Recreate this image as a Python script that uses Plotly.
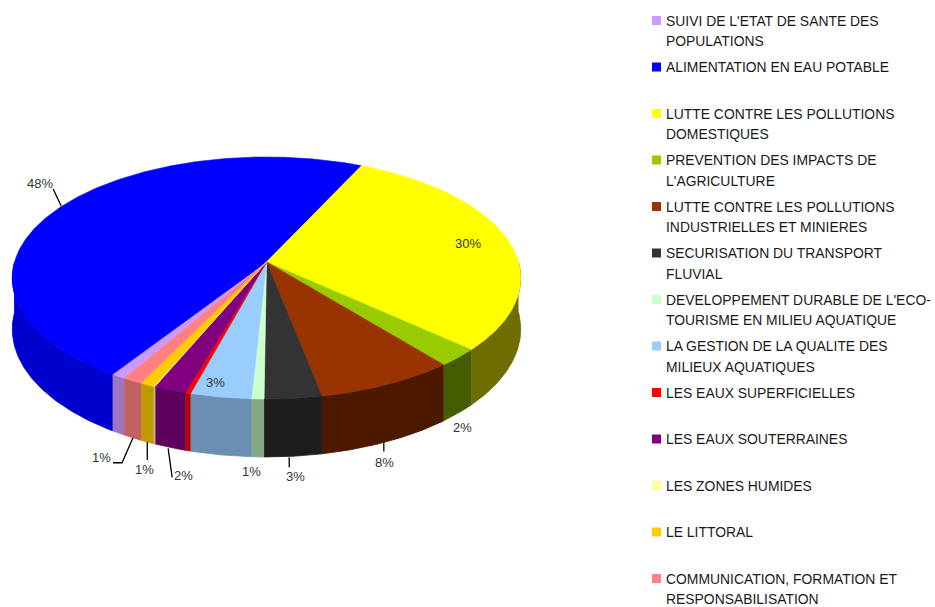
import numpy as np
import plotly.graph_objects as go

# ---- data -------------------------------------------------------------
categories = [
    "SUIVI DE L'ETAT DE SANTE DES\nPOPULATIONS",
    "ALIMENTATION EN EAU POTABLE",
    "LUTTE CONTRE LES POLLUTIONS\nDOMESTIQUES",
    "PREVENTION DES IMPACTS DE\nL'AGRICULTURE",
    "LUTTE CONTRE LES POLLUTIONS\nINDUSTRIELLES ET MINIERES",
    "SECURISATION DU TRANSPORT\nFLUVIAL",
    "DEVELOPPEMENT DURABLE DE L'ECO-\nTOURISME EN MILIEU AQUATIQUE",
    "LA GESTION DE LA QUALITE DES\nMILIEUX AQUATIQUES",
    "LES EAUX SUPERFICIELLES",
    "LES EAUX SOUTERRAINES",
    "LES ZONES HUMIDES",
    "LE LITTORAL",
    "COMMUNICATION, FORMATION ET\nRESPONSABILISATION",
]
shares = [0.8, 47.8, 29.8, 2.4, 7.8, 3.2, 0.7, 3.4, 0.3, 1.8, 0.1, 0.8, 1.1]
colors = ["#CC99FF", "#0000FF", "#FFFF00", "#99CC00", "#993300", "#333333",
          "#CCFFCC", "#99CCFF", "#FF0000", "#800080", "#FFFF99", "#FFCC00",
          "#FF8080"]

# ---- 3-D pie geometry (pixel space) ----------------------------------
W, H = 935, 607
CX, CY = 266.5, 262.0       # apex of the pie
RX, RY = 252.0, 118.9       # radii of the top face
PERSP = 0.132               # perspective strength
DEPTH = 50.3                # thickness of the disc
START = 120.0               # angle where the first slice begins (clockwise on screen)


def proj(theta_deg, r=1.0, drop=0.0):
    t = np.radians(theta_deg)
    u, v = r * np.cos(t), r * np.sin(t)
    s = 1.0 / (1.0 - PERSP * v)
    return CX + RX * u * s, CY + RY * v * s + DEPTH * s * drop


def shade(hex_color, factor):
    h = hex_color.lstrip("#")
    rgb = [int(h[i:i + 2], 16) for i in (0, 2, 4)]
    return "rgb({},{},{})".format(*[int(round(c * factor)) for c in rgb])


def side_factor(theta_deg):
    c = np.cos(np.radians(theta_deg))
    return 0.62 - 0.2 * np.sign(c) * np.sqrt(abs(c))


total = float(sum(shares))
sweeps = [360.0 * s / total for s in shares]
starts = START + np.concatenate([[0.0], np.cumsum(sweeps)[:-1]])
ends = starts + np.array(sweeps)

fig = go.Figure()


def poly(xs, ys, fill, line_w=0.8):
    fig.add_trace(go.Scatter(
        x=list(xs), y=list(ys), mode="lines", fill="toself",
        fillcolor=fill, line=dict(color=fill, width=line_w),
        hoverinfo="skip", showlegend=False))


# outer wall (front half only), one shaded face per slice
for a0, a1, col in zip(starts, ends, colors):
    for k in range(-1, 2):
        lo, hi = a0 + 360 * k, a1 + 360 * k
        lo, hi = max(lo, 0.0), min(hi, 180.0)
        if hi <= lo:
            continue
        n = max(2, int(np.ceil((hi - lo) / 0.5)))
        ts = np.linspace(lo, hi, n + 1)
        tx, ty = proj(ts)
        bx, by = proj(ts[::-1], drop=1.0)
        poly(np.concatenate([tx, bx]), np.concatenate([ty, by]),
             shade(col, side_factor((lo + hi) / 2)))

# top face
for a0, a1, col in zip(starts, ends, colors):
    n = max(2, int(np.ceil((a1 - a0) / 0.5)))
    ts = np.linspace(a0, a1, n + 1)
    ax, ay = proj(ts)
    poly(np.concatenate([[CX], ax, [CX]]), np.concatenate([[CY], ay, [CY]]), col, 0.6)

# ---- percentage labels ------------------------------------------------
# index -> (anchor kind, radius, leader offsets, text offset)
label_style = {
    1: ("rim", 1.0, [(2, -2), (-6, -19)], (-19, -24)),
    2: ("top", 0.84, None, (-2, 1)),
    3: ("base", 1.0, None, (4, 14)),
    4: ("base", 1.0, [(-4, 0), (-4, 10)], (-3, 21)),
    5: ("base", 1.0, [(-4, 1), (-4, 11)], (2, 20)),
    6: ("base", 1.0, None, (-5.7, 15)),
    7: ("top", 0.9, None, (-10, 1)),
    9: ("base", 1.0, [(-2, 1), (2, 30)], (13, 28)),
    11: ("base", 1.0, [(0, 0), (0, 18)], (-3, 27)),
    12: ("base", 1.0, [(0.5, 0), (-10.5, 25), (-19.5, 25)], (-31.5, 20)),
}

annotations = []
for i, (kind, r, leader, toff) in label_style.items():
    mid = (starts[i] + ends[i]) / 2.0
    ax, ay = proj(mid, r=r, drop=1.0 if kind == "base" else 0.0)
    if leader:
        fig.add_trace(go.Scatter(
            x=[ax + dx for dx, _ in leader], y=[ay + dy for _, dy in leader],
            mode="lines", line=dict(color="#000000", width=1.3),
            hoverinfo="skip", showlegend=False))
    pct = int(round(100.0 * shares[i] / total))
    annotations.append(dict(
        x=ax + toff[0], y=ay + toff[1], xref="x", yref="y",
        text=f"{pct}%", showarrow=False, xanchor="center", yanchor="middle",
        font=dict(family="Liberation Sans, Arial, sans-serif", size=13, color="#333333")))

# ---- legend -----------------------------------------------------------
LEG_X, LEG_Y0, LEG_STEP, LINE_STEP = 652.0, 20.5, 46.5, 20.5
shapes = []
for i, (name, col) in enumerate(zip(categories, colors)):
    y0 = LEG_Y0 + i * LEG_STEP
    shapes.append(dict(type="rect", xref="x", yref="y",
                       x0=LEG_X, x1=LEG_X + 9, y0=y0 - 4.5, y1=y0 + 4.5,
                       fillcolor=col, line=dict(width=0)))
    for j, line in enumerate(name.split("\n")):
        annotations.append(dict(
            x=LEG_X + 12, y=y0 + j * LINE_STEP, xref="x", yref="y",
            text=line, showarrow=False, xanchor="left", yanchor="middle",
            font=dict(family="Liberation Sans, Arial, sans-serif", size=13.9,
                      color="#1a1a1a")))

fig.update_layout(
    width=W, height=H, margin=dict(l=0, r=0, t=0, b=0),
    paper_bgcolor="white", plot_bgcolor="white",
    xaxis=dict(range=[0, W], visible=False, fixedrange=True),
    yaxis=dict(range=[H, 0], visible=False, fixedrange=True),
    showlegend=False, annotations=annotations, shapes=shapes,
    dragmode=False,
)

fig.write_html("out.html", config={"displayModeBar": False})
